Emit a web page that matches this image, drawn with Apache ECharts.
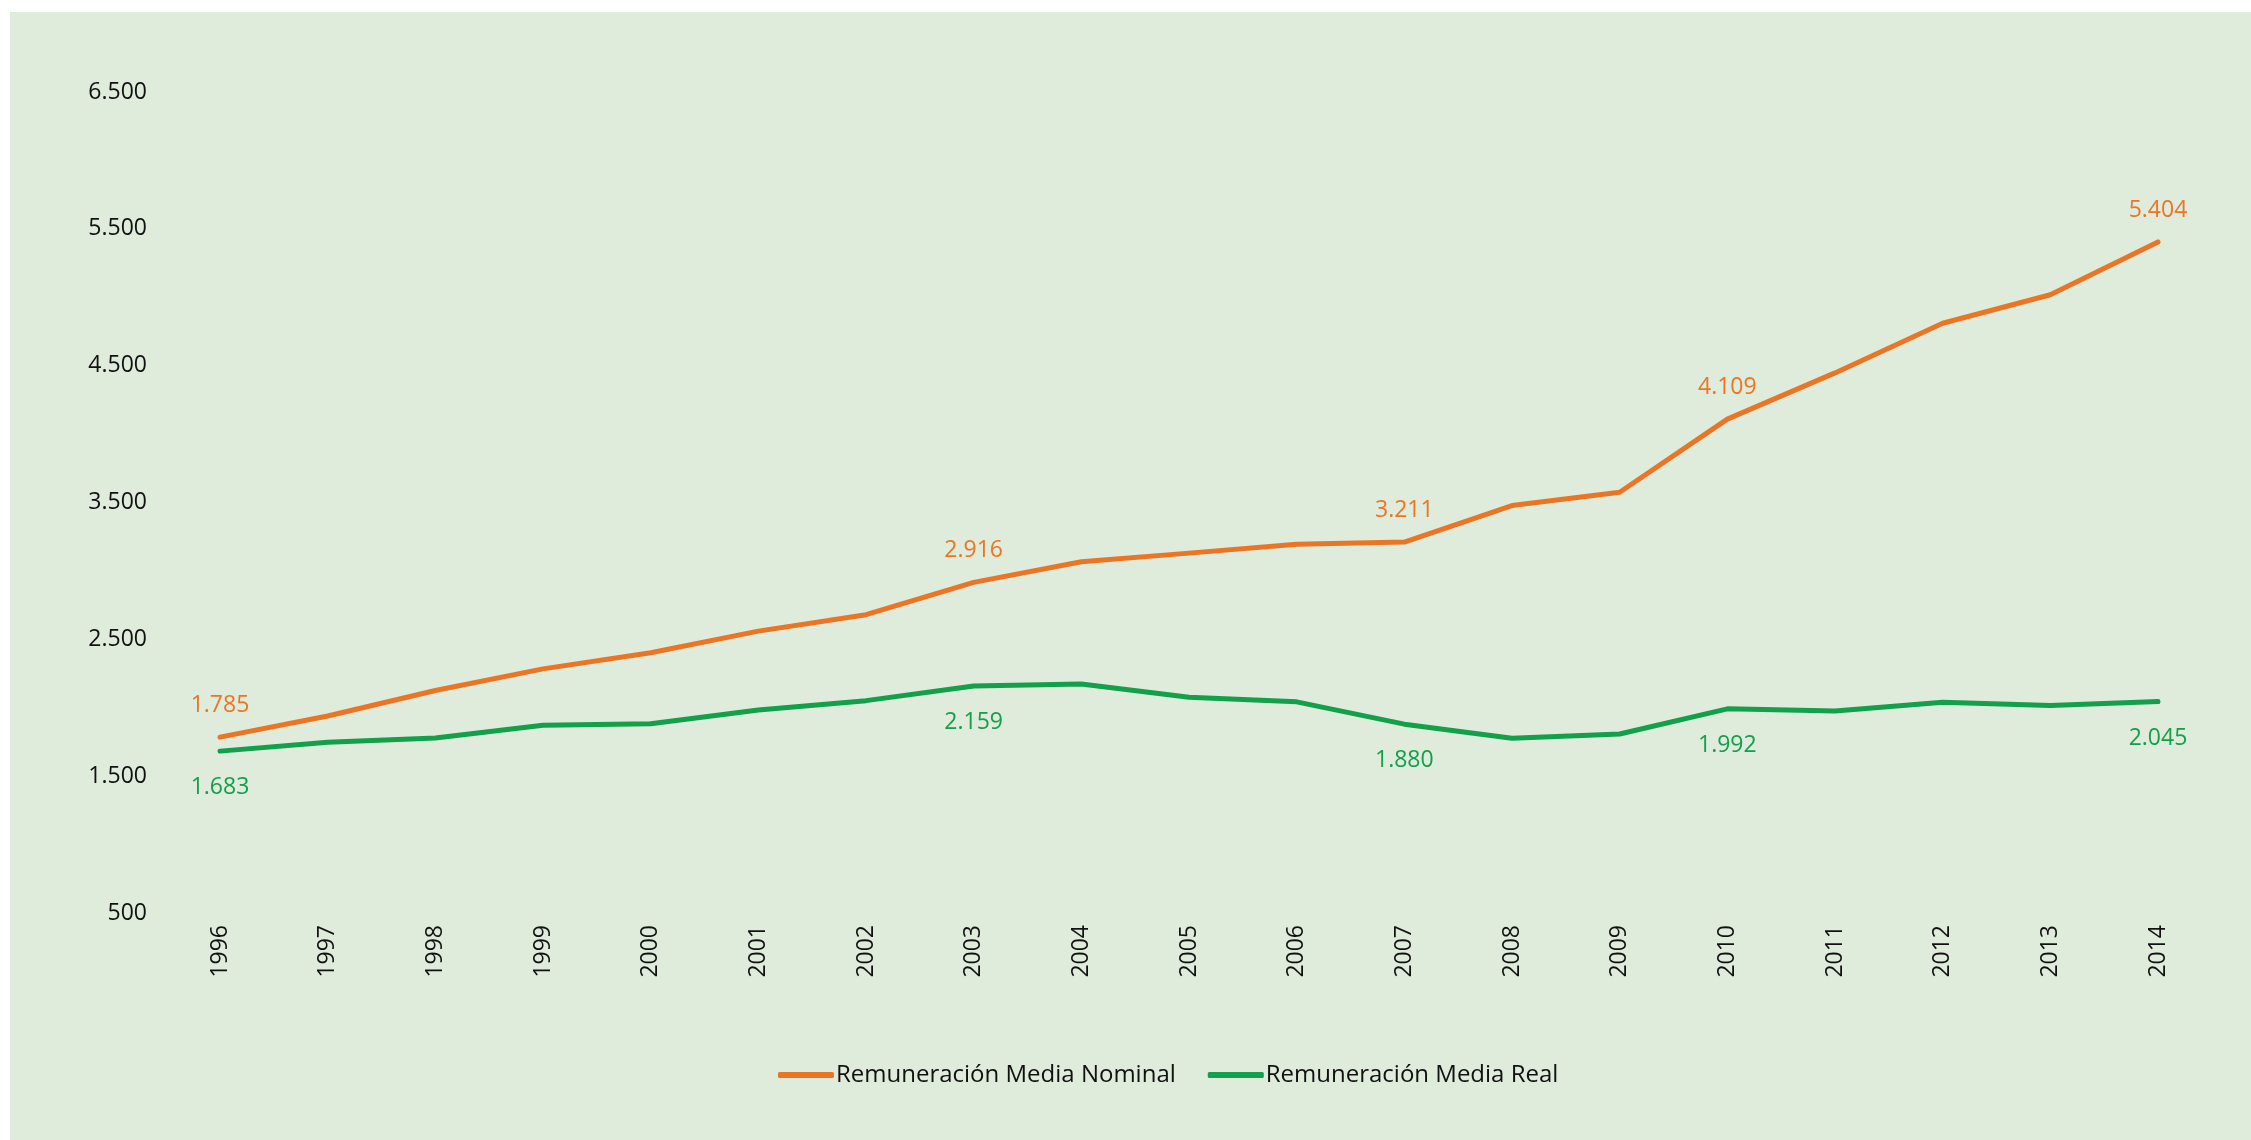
<!DOCTYPE html>
<html>
<head>
<meta charset="utf-8">
<script src="https://cdn.jsdelivr.net/npm/echarts@6/dist/echarts.min.js"></script>
<style>
  html, body { margin: 0; padding: 0; background: #ffffff; width: 2251px; height: 1140px; overflow: hidden; }
  #chart { position: absolute; left: 10px; top: 12px; width: 2241px; height: 1128px; background: #DFEBDB; }
</style>
</head>
<body>
<div id="chart"></div>
<script>
// Years on the horizontal axis
const years = ['1996','1997','1998','1999','2000','2001','2002','2003','2004','2005',
               '2006','2007','2008','2009','2010','2011','2012','2013','2014'];

// Remuneración media nominal
const nominal = [1785, 1940, 2126, 2284, 2402, 2560, 2680, 2916, 3067, 3130,
                 3195, 3211, 3478, 3575, 4109, 4447, 4810, 5018, 5404];

// Remuneración media real
const real = [1683, 1748, 1779, 1872, 1883, 1983, 2052, 2159, 2174, 2077,
              2043, 1880, 1777, 1808, 1992, 1977, 2040, 2016, 2045];

// Years whose value is written next to the line
const labelledYears = ['1996', '2003', '2007', '2010', '2014'];

// Vertical axis tick labels
const yTicks = [500, 1500, 2500, 3500, 4500, 5500, 6500];

const seriesNames = ['Remuneración Media Nominal', 'Remuneración Media Real'];
const ORANGE = '#EA7625';
const GREEN = '#12A04A';
const FONT = 'Open Sans';

function fmt(v) {
  return String(Math.round(v)).replace(/\B(?=(\d{3})+(?!\d))/g, '.');
}

function buildData(values, position, distance, color) {
  return values.map((v, i) => ({
    value: v,
    label: {
      show: labelledYears.indexOf(years[i]) !== -1,
      position: position,
      distance: distance,
      color: color,
      fontFamily: FONT,
      fontSize: 23,
      formatter: p => fmt(p.value)
    }
  }));
}

const chart = echarts.init(document.getElementById('chart'), null, { renderer: 'canvas' });

chart.setOption({
  backgroundColor: '#DFEBDB',
  animation: false,
  grid: { left: 210, right: 93, top: 80, bottom: 227, containLabel: false },
  legend: {
    left: 763,
    top: 1046,
    icon: 'roundRect',
    itemWidth: 56,
    itemHeight: 6,
    itemGap: 32,
    data: seriesNames,
    textStyle: { fontFamily: FONT, fontSize: 24, color: '#111111', padding: [0, 0, 0, -3] }
  },
  xAxis: {
    type: 'category',
    data: years,
    boundaryGap: false,
    axisLine: { show: false },
    axisTick: { show: false },
    splitLine: { show: false },
    axisLabel: {
      rotate: 90,
      margin: 12,
      interval: 0,
      color: '#111111',
      fontFamily: FONT,
      fontSize: 23
    }
  },
  yAxis: {
    type: 'value',
    min: 500,
    max: 6500,
    axisLine: { show: false },
    axisTick: { show: false },
    splitLine: { show: false },
    axisLabel: {
      customValues: yTicks,
      margin: 73,
      color: '#111111',
      fontFamily: FONT,
      fontSize: 23,
      formatter: v => fmt(v)
    }
  },
  series: [
    {
      name: seriesNames[0],
      type: 'line',
      data: buildData(nominal, 'top', 20, ORANGE),
      symbol: 'circle',
      symbolSize: 0,
      showSymbol: true,
      color: ORANGE,
      lineStyle: { width: 5, color: ORANGE, cap: 'round', join: 'round' },
      itemStyle: { color: ORANGE }
    },
    {
      name: seriesNames[1],
      type: 'line',
      data: buildData(real, 'bottom', 25, GREEN),
      symbol: 'circle',
      symbolSize: 0,
      showSymbol: true,
      color: GREEN,
      lineStyle: { width: 5, color: GREEN, cap: 'round', join: 'round' },
      itemStyle: { color: GREEN }
    }
  ]
});
</script>
</body>
</html>
